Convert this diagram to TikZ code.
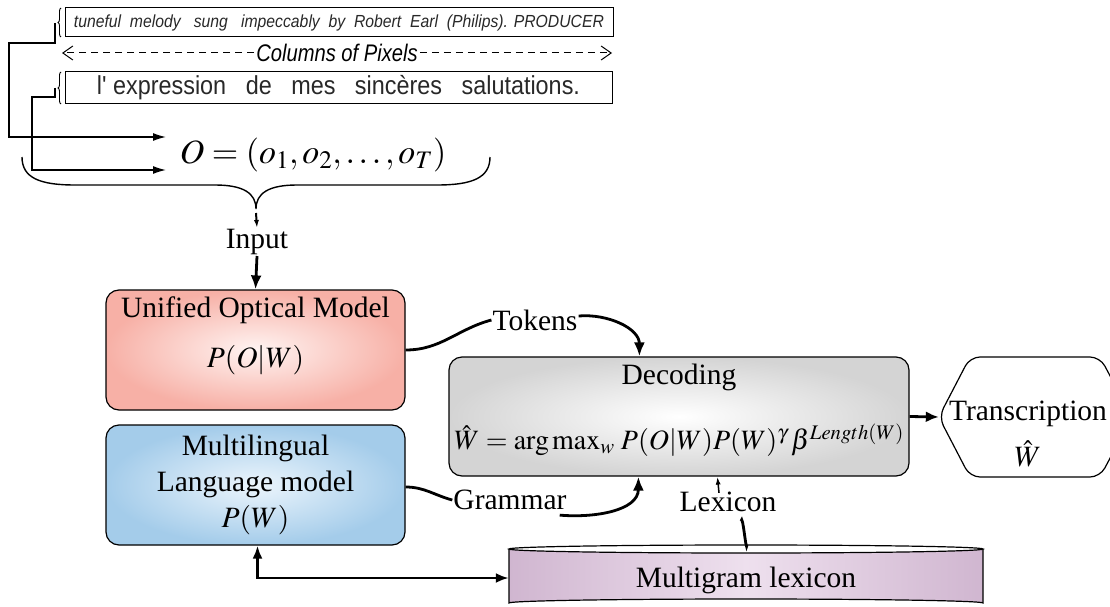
\documentclass[tikz,border=0pt]{standalone}
\usepackage{mathptmx}
\usepackage[no-math]{fontspec}
\setmainfont{Liberation Serif}
\newfontfamily\colfont[FakeStretch=0.84]{Liberation Sans}
\newfontfamily\handfont[FakeStretch=0.9]{Liberation Sans}
\usetikzlibrary{arrows.meta,calc,decorations.pathreplacing}
\definecolor{uomout}{RGB}{247,176,166}
\definecolor{uomin}{RGB}{255,244,242}
\definecolor{mlout}{RGB}{164,204,234}
\definecolor{mlin}{RGB}{236,245,252}
\definecolor{decout}{RGB}{212,212,212}
\definecolor{cylside}{RGB}{208,182,208}
\definecolor{cylmid}{RGB}{238,224,238}
\definecolor{handink}{RGB}{40,40,40}
\begin{document}
\begin{tikzpicture}[x=1pt,y=-1pt,
  mainfont/.style={font=\fontsize{29.5}{34}\selectfont},
  modelbox/.style={draw, line width=1.2pt, rounded corners=13pt, shading=radial},
  handbox/.style={draw, line width=1pt, inner sep=0pt},
  thinconn/.style={line width=1.3pt, -{Latex[length=13pt,width=8pt]}},
  thickline/.style={line width=2.8pt},
  thickconn/.style={line width=2.8pt, -{Latex[length=14pt,width=11pt]}},
  lbl/.style={mainfont, inner sep=1pt}]
\useasboundingbox (0,0) rectangle (1110,607);

% handwritten lines
\node[handbox, minimum width=548pt, minimum height=29pt] (line1) at (339,22.5)
  {\handfont\fontsize{17.5}{20}\selectfont\color{handink}\itshape tuneful\ \ melody\ \ \ sung\ \ \ impeccably\ \ by\ \ Robert\ \ Earl\ \ (Philips). PRODUCER};
\node[handbox, minimum width=547pt, minimum height=32pt] (line2) at (338.5,88)
  {\handfont\fontsize{26}{28}\selectfont\color{handink}l'\ expression\ \ \ de\ \ \ mes\ \ \ sincères\ \ \ salutations.};
\draw[line width=0.9pt, decorate, decoration={brace, amplitude=3pt}]
  (61,37) -- (61,8);
\draw[line width=0.9pt, decorate, decoration={brace, amplitude=3pt}]
  (61,104) -- (61,72);

% columns of pixels
\node[inner sep=2pt, fill=white] (cols) at (337,53) {\colfont\itshape\fontsize{24}{26}\selectfont Columns of Pixels};
\coordinate (colL) at (62,53);
\coordinate (colR) at (612,53);
\draw[line width=1pt, dash pattern=on 7pt off 5pt, -{Straight Barb[length=10pt,width=14pt]}] (cols.west) -- (colL);
\draw[line width=1pt, dash pattern=on 7pt off 5pt, -{Straight Barb[length=10pt,width=14pt]}] (cols.east) -- (colR);

% observation sequence
\node[inner sep=2pt] (obs) at (313,155) {\fontsize{34}{38}\selectfont$O=(o_1,o_2,\ldots,o_T)$};
\coordinate (b1) at (55,23);
\coordinate (b2) at (55,88);
\coordinate (in1) at (166,137);
\coordinate (in2) at (166,170);
\draw[thinconn] (b1) -- (55,43) -- (9,43) |- (in1);
\draw[thinconn] (b2) -- (55,97) -- (32,97) |- (in2);

% big brace
\coordinate (btip) at (256,209);
\draw[line width=1.4pt] (22,157) .. controls (22,178) and (40,185) .. (75,185)
  -- (215,185) .. controls (243,185) and (256,193) .. (btip)
  .. controls (256,193) and (269,185) .. (297,185)
  -- (437,185) .. controls (472,185) and (490,178) .. (490,157);

\node[lbl] (input) at (257,242) {Input};
\draw[line width=2pt, -{Latex[length=8pt,width=5pt]}] ($(btip)+(0,4)$) -- (input.north);

% model boxes
\node[modelbox, inner color=uomin, outer color=uomout, minimum width=299pt, minimum height=120pt] (uom) at (255.5,350) {};
\node[lbl] (uomt) at ($(uom.north)+(0,21)$) {Unified Optical Model};
\node[lbl] (uomp) at ($(uom.north)+(0,71)$) {$P(O|W)$};

\node[modelbox, inner color=mlin, outer color=mlout, minimum width=299pt, minimum height=120pt,
  align=center, font=\fontsize{29.5}{36}\selectfont] (ml) at (255.5,485)
  {Multilingual\\Language model\\$P(W)$};

\node[modelbox, inner color=white, outer color=decout, minimum width=460pt, minimum height=119pt] (dec) at (679,416.5) {};
\node[lbl] (dect) at ($(dec.north)+(0,21)$) {Decoding};
\node[lbl] (decf) at ($(dec.north)+(0,84)$) {\fontsize{28}{32}\selectfont$\hat{W}=\arg\max\nolimits_w\,P(O|W)P(W)^{\gamma}\,\beta^{Length(W)}$};

\draw[thickconn] (input.south) -- (uom.north);

% transcription hexagon
\node[minimum width=182pt, minimum height=120pt, inner sep=0pt] (trans) at (1030,417) {};
\node[lbl, align=center, font=\fontsize{29.5}{46}\selectfont] (transt) at (1028,434) {Transcription\\$\hat{W}$};
\draw[line width=1.2pt, rounded corners=10pt] (trans.west) -- (970,357) -- (1100,357) -- (1132,417) -- (1100,477) -- (970,477) -- cycle;
\draw[line width=2.8pt, -{Latex[length=13pt,width=11pt]}] (dec.east) -- (trans.west);

% lexicon cylinder
\shade[left color=cylside, right color=cylside, middle color=cylmid]
  (509,549) -- (509,603) arc[start angle=180, end angle=360, x radius=237, y radius=4]
  -- (983,549) arc[start angle=0, end angle=180, x radius=237, y radius=4] -- cycle;
\draw[line width=1.2pt] (509,549) -- (509,603) arc[start angle=180, end angle=360, x radius=237, y radius=4]
  -- (983,549);
\draw[line width=1.2pt] (746,549) ellipse[x radius=237, y radius=4];
\node[lbl, minimum width=474pt, minimum height=58pt] (lexdb) at (746,580) {Multigram lexicon};

% labels on connectors
\node[lbl] (tokens) at (535,320) {Tokens};
\node[lbl] (grammar) at (510,500) {Grammar};
\node[lbl] (lexicon) at (728,502) {Lexicon};

\coordinate (dectop) at ($(dec.north west)+(191,0)$);
\coordinate (decbot) at ($(dec.south west)+(190,0)$);
\coordinate (declex) at ($(dec.south west)+(269,0)$);
\coordinate (lextop) at (747,545);

\draw[thickline] (uom.east) to[out=0, in=195] (tokens.west);
\draw[thickconn] ($(tokens.east)+(0,-4)$) to[out=5, in=90] (dectop);

\draw[thickline] ($(ml.east)+(0,2)$) to[out=0, in=165] (grammar.west);
\draw[thickconn] ($(grammar.south east)+(-8,4)$) to[out=-5, in=-90] (decbot);

\draw[thickline] (lextop) to[out=-95, in=80] ($(lexicon.south)+(13,8)$);
\draw[line width=1.5pt, -{Latex[length=8pt,width=5pt]}] ($(lexicon.north)+(-9,2)$) -- (declex);

% multilingual <-> lexicon
\coordinate (mlbot) at ($(ml.south)+(2,0)$);
\draw[line width=2.6pt, {Latex[length=13pt,width=10pt]}-{Latex[length=13pt,width=10pt]}] (mlbot) |- ($(lexdb.west)+(0,-2)$);
\end{tikzpicture}
\end{document}
